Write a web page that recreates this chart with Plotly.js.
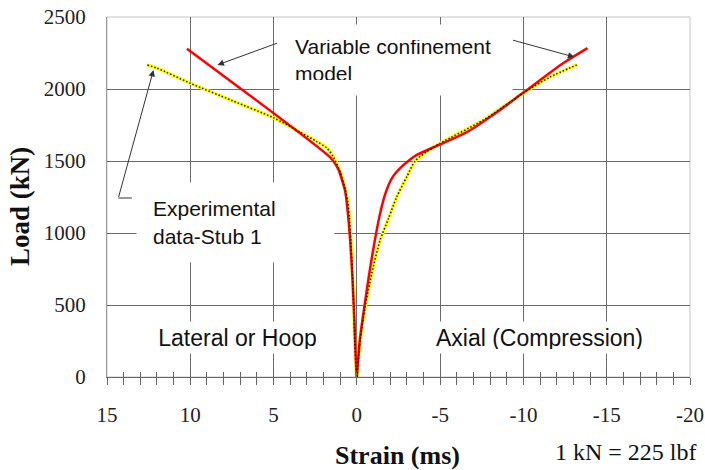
<!DOCTYPE html>
<html>
<head>
<meta charset="utf-8">
<script src="https://cdn.plot.ly/plotly-3.0.1.min.js"></script>
<style>html,body{margin:0;padding:0;background:#fff;}#chart{width:705px;height:470px;}</style>
</head>
<body>
<div id="chart"></div>
<script>
// Experimental data - Stub 1 (lateral / hoop side, positive strain)
const expHoopStrain = [0, 0.03, 0.13, 0.19, 0.27, 0.37, 0.45, 0.55, 0.69, 0.99, 1.39, 1.8, 2.4, 3.4, 5.0, 7.5, 10.0, 12.0, 12.6];
const expHoopLoad   = [0, 30, 257, 488, 722, 960, 1110, 1220, 1300, 1420, 1525, 1590, 1635, 1700, 1800, 1920, 2040, 2145, 2167];
// Experimental data - Stub 1 (axial compression side, negative strain)
const expAxialStrain = [0, -0.2, -0.5, -0.9, -1.4, -1.9, -2.4, -3.0, -3.5, -4.2, -5.0, -7.6, -10.0, -11.6, -13.2];
const expAxialLoad   = [0, 257, 488, 722, 951, 1100, 1252, 1391, 1500, 1565, 1623, 1785, 1972, 2083, 2167];
// Variable confinement model
const modelHoopStrain = [0, 0.05, 0.15, 0.27, 0.39, 0.55, 0.7, 0.89, 1.1, 1.3, 1.6, 10.2];
const modelHoopLoad   = [0, 100, 400, 700, 930, 1150, 1290, 1368, 1440, 1480, 1525, 2280];
const modelAxialStrain = [0, -0.18, -0.45, -0.75, -1.05, -1.35, -1.7, -2.1, -2.6, -3.2, -3.6, -5.0, -6.6, -8.3, -10.0, -12.4, -13.85];
const modelAxialLoad   = [0, 257, 488, 722, 930, 1111, 1270, 1380, 1450, 1510, 1542, 1615, 1700, 1830, 1975, 2180, 2284];

// Axis ticks
const xTickVals = [15, 10, 5, 0, -5, -10, -15, -20];
const xTickText = ['15', '10', '5', '0', '-5', '-10', '-15', '-20'];
const yTickVals = [0, 500, 1000, 1500, 2000, 2500];
const yTickText = ['0', '500', '1000', '1500', '2000', '2500'];

// Labels
const xTitle = 'Strain (ms)';
const yTitle = 'Load (kN)';
const modelLabel = 'Variable confinement<br>model';
const expLabel = 'Experimental<br>data-Stub 1';
const hoopLabel = 'Lateral or Hoop';
const axialLabel = 'Axial (Compression)';
const unitNote = '1 kN = 225 lbf';

const yellowLine = {color: '#ffff00', width: 3.5, shape: 'spline', smoothing: 0.7};
const redLine = {color: '#ff0000', width: 2.5, shape: 'spline', smoothing: 0.7};
const dotLine = {color: '#1a1a1a', width: 1.5, dash: '1.5px,2px', shape: 'spline', smoothing: 0.7};

const traces = [
  {x: expHoopStrain, y: expHoopLoad, mode: 'lines', line: yellowLine, hoverinfo: 'skip'},
  {x: expAxialStrain, y: expAxialLoad, mode: 'lines', line: yellowLine, hoverinfo: 'skip'},
  {x: modelHoopStrain, y: modelHoopLoad, mode: 'lines', line: redLine, hoverinfo: 'skip'},
  {x: modelAxialStrain, y: modelAxialLoad, mode: 'lines', line: redLine, hoverinfo: 'skip'},
  {x: expHoopStrain, y: expHoopLoad, mode: 'lines', line: dotLine, hoverinfo: 'skip'},
  {x: expAxialStrain, y: expAxialLoad, mode: 'lines', line: dotLine, hoverinfo: 'skip'},
  {x: [], y: [], xaxis: 'x2', yaxis: 'y', mode: 'lines', hoverinfo: 'skip'}
];

const serif = 'Liberation Serif, Times New Roman, serif';
const sans = 'Liberation Sans, Arial, sans-serif';
const arrowStyle = {showarrow: true, arrowhead: 2, arrowsize: 1.3, arrowwidth: 1, arrowcolor: '#333', xref: 'x', yref: 'y', axref: 'x', ayref: 'y', text: ' ', font: {size: 1}, borderpad: 0, standoff: 0};

const layout = {
  width: 705, height: 470,
  margin: {l: 107, r: 15, t: 17, b: 93},
  paper_bgcolor: '#fff', plot_bgcolor: '#fff',
  showlegend: false,
  xaxis: {
    range: [15, -20], tickmode: 'array', tickvals: xTickVals, ticktext: xTickText,
    showgrid: true, gridcolor: '#6a6a6a', gridwidth: 1, zeroline: false,
    showline: true, linecolor: '#666', linewidth: 1,
    ticks: 'outside', ticklen: 7, tickcolor: '#666', tickwidth: 1,
    minor: {tickmode: 'linear', tick0: 0, dtick: 1, ticks: 'outside', ticklen: 7, tickcolor: '#666', tickwidth: 1, showgrid: false},
    tickfont: {family: serif, size: 21, color: '#222'}, ticklabelstandoff: 12
  },
  xaxis2: {
    overlaying: 'x', anchor: 'y', side: 'bottom', range: [15, -20],
    tickmode: 'array', tickvals: xTickVals, showticklabels: false, showgrid: false, zeroline: false, showline: false,
    ticks: 'inside', ticklen: 5, tickcolor: '#666', tickwidth: 1,
    minor: {tickmode: 'linear', tick0: 0, dtick: 1, ticks: 'inside', ticklen: 5, tickcolor: '#666', tickwidth: 1, showgrid: false}
  },
  yaxis: {
    range: [0, 2500], tickmode: 'array', tickvals: yTickVals, ticktext: yTickText,
    showgrid: true, gridcolor: '#6a6a6a', gridwidth: 1, zeroline: false,
    showline: true, linecolor: '#999', linewidth: 1, ticks: '',
    tickfont: {family: serif, size: 21, color: '#222'}, ticklabelstandoff: 16
  },
  shapes: [
    {type: 'rect', xref: 'paper', yref: 'paper', x0: 0, x1: 1, y0: 0, y1: 1, line: {color: '#c4c4c4', width: 1}, layer: 'below'}
  ],
  annotations: [
    {xref: 'paper', yref: 'paper', x: 0.4957, y: 0.8806, xanchor: 'center', yanchor: 'middle', text: modelLabel, align: 'left',
     showarrow: false, bgcolor: '#fff', width: 202, height: 40, borderpad: 15, font: {family: sans, size: 21, color: '#111'}},
    {xref: 'paper', yref: 'paper', x: 0.2204, y: 0.4292, xanchor: 'center', yanchor: 'middle', text: expLabel, align: 'left',
     showarrow: false, bgcolor: '#fff', width: 165, height: 47, borderpad: 16, font: {family: sans, size: 21, color: '#111'}},
    {xref: 'paper', yref: 'paper', x: 0.2238, y: 0.1097, xanchor: 'center', yanchor: 'middle', text: hoopLabel, align: 'center',
     showarrow: false, bgcolor: '#fff', width: 175, height: 23, borderpad: 4, font: {family: sans, size: 23, color: '#111'}},
    {xref: 'paper', yref: 'paper', x: 0.741, y: 0.1097, xanchor: 'center', yanchor: 'middle', text: axialLabel, align: 'center',
     showarrow: false, bgcolor: '#fff', width: 225, height: 23, borderpad: 4, font: {family: sans, size: 23, color: '#111'}},
    {xref: 'paper', yref: 'paper', x: 0.891, y: -0.2083, xanchor: 'center', yanchor: 'middle', text: unitNote,
     showarrow: false, font: {family: serif, size: 24, color: '#111'}},
    {xref: 'paper', yref: 'paper', x: 0.498, y: -0.2167, xanchor: 'center', yanchor: 'middle', text: '<b>' + xTitle + '</b>',
     showarrow: false, font: {family: serif, size: 26, color: '#111'}},
    {xref: 'paper', yref: 'paper', x: -0.1492, y: 0.472, xanchor: 'center', yanchor: 'middle', text: '<b>' + yTitle + '</b>', textangle: -90,
     showarrow: false, font: {family: serif, size: 27, color: '#111'}},
    Object.assign({}, arrowStyle, {x: 8.37, y: 2167, ax: 4.77, ay: 2319}),
    Object.assign({}, arrowStyle, {x: -13.06, y: 2222, ax: -9.34, ay: 2340}),
    Object.assign({}, arrowStyle, {x: 12.21, y: 2132, ax: 14.32, ay: 1243}),
    Object.assign({}, arrowStyle, {x: 14.32, y: 1243, ax: 13.48, ay: 1243, arrowhead: 0})
  ]
};

Plotly.newPlot('chart', traces, layout, {staticPlot: true, displayModeBar: false});
</script>
</body>
</html>
